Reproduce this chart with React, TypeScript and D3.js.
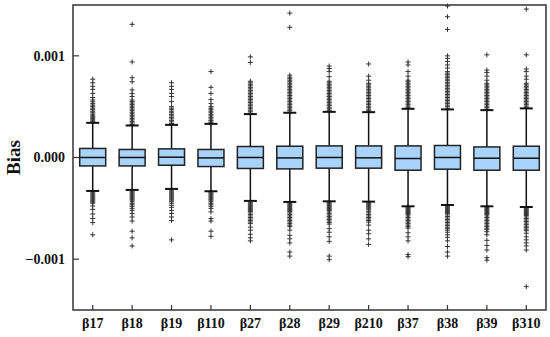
import React from 'react';
import * as d3 from 'd3';

// values are in units of 1e-3 (the axis shows plain Bias values)
const categories = ['β17', 'β18', 'β19', 'β110', 'β27', 'β28', 'β29', 'β210', 'β37', 'β38', 'β39', 'β310'];

const q1 = [-0.083, -0.083, -0.076, -0.089, -0.108, -0.112, -0.105, -0.105, -0.125, -0.115, -0.125, -0.125];
const medians = [0, 0, 0.003, -0.004, 0, -0.004, 0, -0.003, -0.01, 0, -0.007, -0.007];
const q3 = [0.089, 0.079, 0.085, 0.079, 0.108, 0.111, 0.114, 0.114, 0.114, 0.118, 0.104, 0.111];
const whiskerLow = [-0.329, -0.319, -0.309, -0.332, -0.427, -0.437, -0.431, -0.434, -0.48, -0.467, -0.48, -0.487];
const whiskerHigh = [0.341, 0.315, 0.321, 0.331, 0.427, 0.44, 0.449, 0.446, 0.479, 0.473, 0.466, 0.483];

const outliersHigh = [
  [0.77, 0.735, 0.7, 0.67, 0.63, 0.59, 0.565, 0.548, 0.53, 0.515, 0.5, 0.485, 0.47, 0.455, 0.44, 0.425, 0.41, 0.4, 0.39, 0.38, 0.37, 0.36, 0.35],
  [1.31, 0.94, 0.785, 0.745, 0.665, 0.63, 0.6, 0.565, 0.55, 0.535, 0.52, 0.505, 0.49, 0.475, 0.46, 0.445, 0.43, 0.415, 0.4, 0.385, 0.37, 0.355, 0.34, 0.325],
  [0.735, 0.7, 0.67, 0.63, 0.6, 0.55, 0.5, 0.485, 0.47, 0.455, 0.44, 0.425, 0.41, 0.395, 0.38, 0.365, 0.35, 0.335],
  [0.845, 0.69, 0.63, 0.57, 0.53, 0.5, 0.485, 0.47, 0.455, 0.44, 0.425, 0.41, 0.395, 0.38, 0.365, 0.35, 0.34],
  [0.99, 0.935, 0.75, 0.735, 0.72, 0.705, 0.69, 0.675, 0.66, 0.645, 0.63, 0.615, 0.6, 0.585, 0.57, 0.555, 0.54, 0.525, 0.51, 0.495, 0.48, 0.465, 0.45, 0.435],
  [1.42, 1.28, 0.81, 0.79, 0.775, 0.76, 0.745, 0.73, 0.715, 0.7, 0.685, 0.67, 0.655, 0.64, 0.625, 0.61, 0.595, 0.58, 0.565, 0.55, 0.535, 0.52, 0.505, 0.49, 0.475, 0.46, 0.445],
  [0.9, 0.875, 0.845, 0.795, 0.75, 0.735, 0.72, 0.705, 0.69, 0.675, 0.66, 0.645, 0.63, 0.615, 0.6, 0.585, 0.57, 0.555, 0.54, 0.525, 0.51, 0.495, 0.48, 0.465, 0.455],
  [0.92, 0.8, 0.76, 0.73, 0.715, 0.7, 0.685, 0.67, 0.655, 0.64, 0.625, 0.61, 0.595, 0.58, 0.565, 0.55, 0.535, 0.52, 0.505, 0.49, 0.475, 0.46, 0.45],
  [0.94, 0.91, 0.845, 0.8, 0.76, 0.745, 0.73, 0.715, 0.7, 0.685, 0.67, 0.655, 0.64, 0.625, 0.61, 0.595, 0.58, 0.565, 0.55, 0.535, 0.52, 0.505, 0.49],
  [1.49, 1.385, 1.26, 1.0, 0.975, 0.945, 0.91, 0.88, 0.845, 0.83, 0.815, 0.8, 0.785, 0.77, 0.755, 0.74, 0.725, 0.71, 0.695, 0.68, 0.665, 0.65, 0.635, 0.62, 0.605, 0.59, 0.575, 0.56, 0.545, 0.53, 0.515, 0.5, 0.485],
  [1.01, 0.86, 0.835, 0.8, 0.76, 0.73, 0.715, 0.7, 0.685, 0.67, 0.655, 0.64, 0.625, 0.61, 0.595, 0.58, 0.565, 0.55, 0.535, 0.52, 0.505, 0.49, 0.475],
  [1.46, 1.01, 0.87, 0.845, 0.8, 0.77, 0.73, 0.715, 0.7, 0.685, 0.67, 0.655, 0.64, 0.625, 0.61, 0.595, 0.58, 0.565, 0.55, 0.535, 0.52, 0.505, 0.49],
];

const outliersLow = [
  [-0.34, -0.35, -0.36, -0.37, -0.38, -0.39, -0.4, -0.41, -0.42, -0.43, -0.44, -0.45, -0.477, -0.51, -0.556, -0.6, -0.64, -0.76],
  [-0.33, -0.34, -0.35, -0.36, -0.37, -0.38, -0.39, -0.4, -0.41, -0.42, -0.435, -0.45, -0.465, -0.48, -0.5, -0.52, -0.55, -0.585, -0.625, -0.725, -0.79, -0.87],
  [-0.32, -0.33, -0.34, -0.35, -0.36, -0.37, -0.38, -0.39, -0.4, -0.41, -0.42, -0.435, -0.45, -0.47, -0.49, -0.52, -0.55, -0.585, -0.62, -0.81],
  [-0.34, -0.35, -0.36, -0.37, -0.38, -0.39, -0.4, -0.41, -0.42, -0.435, -0.45, -0.465, -0.48, -0.5, -0.535, -0.6, -0.625, -0.725, -0.775],
  [-0.44, -0.45, -0.46, -0.47, -0.48, -0.49, -0.5, -0.51, -0.52, -0.53, -0.545, -0.56, -0.575, -0.59, -0.605, -0.62, -0.635, -0.65, -0.685, -0.715, -0.755, -0.79, -0.82],
  [-0.45, -0.46, -0.47, -0.48, -0.49, -0.5, -0.51, -0.52, -0.53, -0.545, -0.56, -0.575, -0.59, -0.605, -0.62, -0.635, -0.65, -0.665, -0.68, -0.715, -0.765, -0.8, -0.84, -0.93, -0.97],
  [-0.44, -0.45, -0.46, -0.47, -0.48, -0.49, -0.5, -0.51, -0.52, -0.535, -0.55, -0.565, -0.58, -0.595, -0.61, -0.625, -0.64, -0.655, -0.7, -0.735, -0.78, -0.825, -0.97, -1.005],
  [-0.445, -0.455, -0.465, -0.475, -0.485, -0.495, -0.505, -0.515, -0.53, -0.545, -0.56, -0.575, -0.59, -0.605, -0.62, -0.635, -0.665, -0.715, -0.75, -0.8, -0.855],
  [-0.49, -0.5, -0.51, -0.52, -0.53, -0.54, -0.55, -0.56, -0.575, -0.59, -0.605, -0.62, -0.635, -0.65, -0.665, -0.68, -0.695, -0.74, -0.78, -0.82, -0.955, -0.975],
  [-0.48, -0.49, -0.5, -0.51, -0.52, -0.53, -0.54, -0.55, -0.565, -0.58, -0.595, -0.61, -0.625, -0.64, -0.655, -0.67, -0.685, -0.7, -0.715, -0.735, -0.76, -0.785, -0.82, -0.875, -0.93, -0.97],
  [-0.49, -0.5, -0.51, -0.52, -0.53, -0.54, -0.55, -0.56, -0.575, -0.59, -0.605, -0.62, -0.635, -0.65, -0.665, -0.68, -0.695, -0.71, -0.73, -0.76, -0.815, -0.865, -0.91, -0.985, -1.01],
  [-0.5, -0.51, -0.52, -0.53, -0.54, -0.55, -0.56, -0.57, -0.585, -0.6, -0.615, -0.63, -0.645, -0.66, -0.675, -0.69, -0.705, -0.72, -0.745, -0.78, -0.81, -0.84, -0.87, -0.91, -1.27],
];

const yTicks = [0.001, 0, -0.001];
const yTickLabels = ['0.001', '0.000', '\u22120.001'];

const width = 550;
const height = 337;
const margin = { top: 5, right: 4, bottom: 27, left: 73 };

export default function App() {
  const x = d3.scaleBand().domain(categories).range([margin.left, width - margin.right]);
  const y = d3.scaleLinear().domain([-0.0015, 0.0015]).range([height - margin.bottom, margin.top]);
  const yv = (v: number) => y(v * 1e-3);
  const boxW = x.bandwidth() * 0.66;
  const capW = 13;
  const font = '"Liberation Serif", "Times New Roman", serif';
  const plus = (cx: number, cy: number) => `M${cx - 2.5},${cy}h5M${cx},${cy - 2.5}v5`;

  return (
    <svg width={width} height={height} style={{ position: 'absolute', left: 0, top: 0 }}>
      <rect x={0} y={0} width={width} height={height} fill="#fff" />

      {categories.map((c, i) => {
        const cx = x(c)! + x.bandwidth() / 2;
        const pts = [...outliersHigh[i], ...outliersLow[i]];
        return (
          <g key={c}>
            <path
              d={pts.map(v => plus(cx, yv(v))).join('')}
              stroke="#333"
              strokeWidth={1}
              fill="none"
            />
            <line x1={cx} x2={cx} y1={yv(whiskerHigh[i])} y2={yv(whiskerLow[i])} stroke="#111" strokeWidth={1.5} />
            <line x1={cx - capW / 2} x2={cx + capW / 2} y1={yv(whiskerHigh[i])} y2={yv(whiskerHigh[i])} stroke="#111" strokeWidth={2} />
            <line x1={cx - capW / 2} x2={cx + capW / 2} y1={yv(whiskerLow[i])} y2={yv(whiskerLow[i])} stroke="#111" strokeWidth={2} />
            <rect
              x={cx - boxW / 2}
              y={yv(q3[i])}
              width={boxW}
              height={yv(q1[i]) - yv(q3[i])}
              fill="#a8d3fb"
              stroke="#222"
              strokeWidth={1.5}
            />
            <line x1={cx - boxW / 2} x2={cx + boxW / 2} y1={yv(medians[i])} y2={yv(medians[i])} stroke="#111" strokeWidth={1.5} />
          </g>
        );
      })}

      {/* frame */}
      <rect
        x={margin.left}
        y={margin.top}
        width={width - margin.left - margin.right}
        height={height - margin.top - margin.bottom}
        fill="none"
        stroke="#333"
        strokeWidth={1.5}
      />

      {/* y ticks */}
      {yTicks.map((t, i) => (
        <g key={t}>
          <line x1={margin.left} x2={margin.left + 6} y1={y(t)} y2={y(t)} stroke="#333" strokeWidth={1.2} />
          <text
            x={margin.left - 8}
            y={y(t)}
            dy="0.35em"
            textAnchor="end"
            fontFamily={font}
            fontWeight="bold"
            fontSize={14}
            fill="#111"
          >
            {yTickLabels[i]}
          </text>
        </g>
      ))}

      {/* x ticks */}
      {categories.map(c => {
        const cx = x(c)! + x.bandwidth() / 2;
        const yb = height - margin.bottom;
        return (
          <g key={c}>
            <line x1={cx} x2={cx} y1={yb} y2={yb - 5} stroke="#333" strokeWidth={1.2} />
            <text x={cx} y={yb + 18} textAnchor="middle" fontFamily={font} fontWeight="bold" fontSize={14} fill="#111">
              {c}
            </text>
          </g>
        );
      })}

      <text
        transform={`translate(20,${y(0)}) rotate(-90)`}
        textAnchor="middle"
        fontFamily={font}
        fontWeight="bold"
        fontSize={19}
        fill="#111"
      >
        Bias
      </text>
    </svg>
  );
}
